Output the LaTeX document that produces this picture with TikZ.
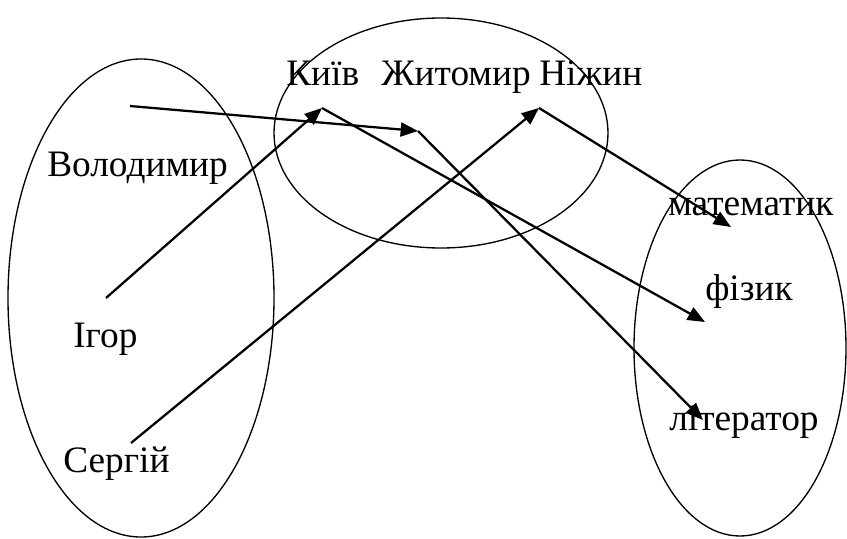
\documentclass[tikz,border=0pt]{standalone}
\usepackage{fontspec}
\setmainfont{Liberation Serif}
\usetikzlibrary{arrows.meta}
\begin{document}
\begin{tikzpicture}[x=0.75pt,y=-0.75pt,
  lbl/.style={anchor=base west,inner sep=0pt,font=\fontsize{28}{31}\selectfont},
  set/.style={draw=black,line width=1pt},
  link/.style={draw=black,line width=1.7pt,-{Triangle[length=13pt,width=10.5pt]}}]
\useasboundingbox (0,0) rectangle (847,539);
% sets
\draw[set] (141,298) ellipse [x radius=133, y radius=239];
\draw[set] (441,133) ellipse [x radius=167, y radius=115];
\draw[set] (740,348) ellipse [x radius=106, y radius=188];
% labels
\node[lbl] (vol) at (47,176) {Володимир};
\node[lbl] (igor) at (73,347) {Ігор};
\node[lbl] (serg) at (63,472) {Сергій};
\node[lbl] (kyiv) at (286,85) {Київ};
\node[lbl] (zhyt) at (381,85) {Житомир};
\node[lbl] (nizh) at (539,85) {Ніжин};
\node[lbl] (mat) at (668,215) {математик};
\node[lbl] (fiz) at (705,300) {фізик};
\node[lbl] (lit) at (669,430) {літератор};
% connector points
\coordinate (pv) at (130,106);
\coordinate (pi) at (106,298);
\coordinate (ps) at (131,443);
\coordinate (pk) at (322,108);
\coordinate (pz) at (418,131);
\coordinate (pn) at (539,108);
\coordinate (pm) at (731,227);
\coordinate (pf) at (705,322);
\coordinate (pl) at (703,420);
% arrows
\draw[link] (pv) -- (pz);
\draw[link] (pi) -- (pk);
\draw[link] (ps) -- (pn);
\draw[link] (pk) -- (pf);
\draw[link] (pz) -- (pl);
\draw[link] (pn) -- (pm);
\end{tikzpicture}
\end{document}
